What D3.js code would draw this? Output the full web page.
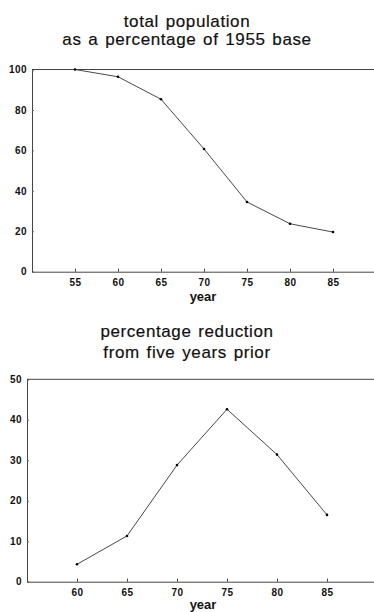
<!DOCTYPE html>
<html>
<head>
<meta charset="utf-8">
<script src="https://cdn.jsdelivr.net/npm/d3@7"></script>
<style>
  body { margin: 0; background: #fff; }
  svg { display: block; font-family: Arial, "Liberation Sans", Helvetica, sans-serif; }
</style>
</head>
<body>
<div id="chart"></div>
<script>
// top panel: total population as % of 1955 base
const popYears = [55, 60, 65, 70, 75, 80, 85];
const popValues = [100, 96.4, 85.3, 60.7, 34.5, 23.7, 19.6];
const popYTicks = [0, 20, 40, 60, 80, 100];

// bottom panel: % reduction from five years prior
const redYears = [60, 65, 70, 75, 80, 85];
const redValues = [4.3, 11.3, 28.8, 42.6, 31.4, 16.5];
const redYTicks = [0, 10, 20, 30, 40, 50];

const W = 374, H = 612;
const ink = '#333';

const svg = d3.select('#chart')
  .append('svg')
  .attr('width', W)
  .attr('height', H);

function drawPanel(cfg) {
  const x = d3.scaleLinear().domain(cfg.xDomain).range(cfg.xRange);
  const y = d3.scaleLinear().domain(cfg.yDomain).range(cfg.yRange);
  const g = svg.append('g');

  // title, two lines
  cfg.title.forEach((t, i) => {
    g.append('text')
      .attr('x', 187)
      .attr('y', cfg.titleY[i])
      .attr('text-anchor', 'middle')
      .attr('font-size', '17px')
      .attr('letter-spacing', '0.6px')
      .attr('word-spacing', '1.5px')
      .attr('fill', '#111')
      .attr('stroke', '#111')
      .attr('stroke-width', 0.2)
      .text(t);
  });

  // x axis
  const xAxis = g.append('g')
    .attr('transform', `translate(0,${y(0)})`)
    .call(d3.axisBottom(x).tickValues(cfg.years).tickSize(-3).tickPadding(7));
  xAxis.select('.domain').attr('stroke', '#444');
  xAxis.selectAll('.tick line').attr('stroke', '#444');
  xAxis.selectAll('text')
    .attr('fill', '#111')
    .attr('font-size', '10px')
    .attr('font-weight', 'bold')
    .attr('letter-spacing', '0.5px');

  // y axis
  const yAxis = g.append('g')
    .attr('transform', `translate(${cfg.xRange[0]},0)`)
    .call(d3.axisLeft(y).tickValues(cfg.yTicks).tickSize(-2).tickPadding(5));
  yAxis.select('.domain').attr('stroke', '#444');
  yAxis.selectAll('.tick line').attr('stroke', '#666');
  yAxis.selectAll('text')
    .attr('fill', '#111')
    .attr('font-size', '10px')
    .attr('font-weight', 'bold')
    .attr('letter-spacing', '0.4px');

  // top frame line
  g.append('line')
    .attr('x1', cfg.xRange[0])
    .attr('x2', cfg.xRange[1])
    .attr('y1', y(cfg.yDomain[1]))
    .attr('y2', y(cfg.yDomain[1]))
    .attr('stroke', '#444');

  // axis label
  g.append('text')
    .attr('x', 203)
    .attr('y', cfg.labelY)
    .attr('text-anchor', 'middle')
    .attr('font-size', '13px')
    .attr('font-weight', 'bold')
    .attr('fill', '#111')
    .text('year');

  const pts = cfg.years.map((d, i) => [d, cfg.values[i]]);

  g.append('path')
    .datum(pts)
    .attr('fill', 'none')
    .attr('stroke', ink)
    .attr('stroke-width', 0.9)
    .attr('d', d3.line().x((d) => x(d[0])).y((d) => y(d[1])));

  g.selectAll('circle')
    .data(pts)
    .enter()
    .append('circle')
    .attr('cx', (d) => x(d[0]))
    .attr('cy', (d) => y(d[1]))
    .attr('r', 1.3)
    .attr('fill', '#000');
}

drawPanel({
  title: ['total population', 'as a percentage of 1955 base'],
  titleY: [27, 45],
  years: popYears,
  values: popValues,
  yTicks: popYTicks,
  xDomain: [50, 90],
  xRange: [32, 376],
  yDomain: [0, 100],
  yRange: [271.7, 69.5],
  labelY: 301
});

drawPanel({
  title: ['percentage reduction', 'from five years prior'],
  titleY: [337, 358],
  years: redYears,
  values: redValues,
  yTicks: redYTicks,
  xDomain: [55, 90],
  xRange: [27, 377],
  yDomain: [0, 50],
  yRange: [581.7, 379.3],
  labelY: 609
});
</script>
</body>
</html>
